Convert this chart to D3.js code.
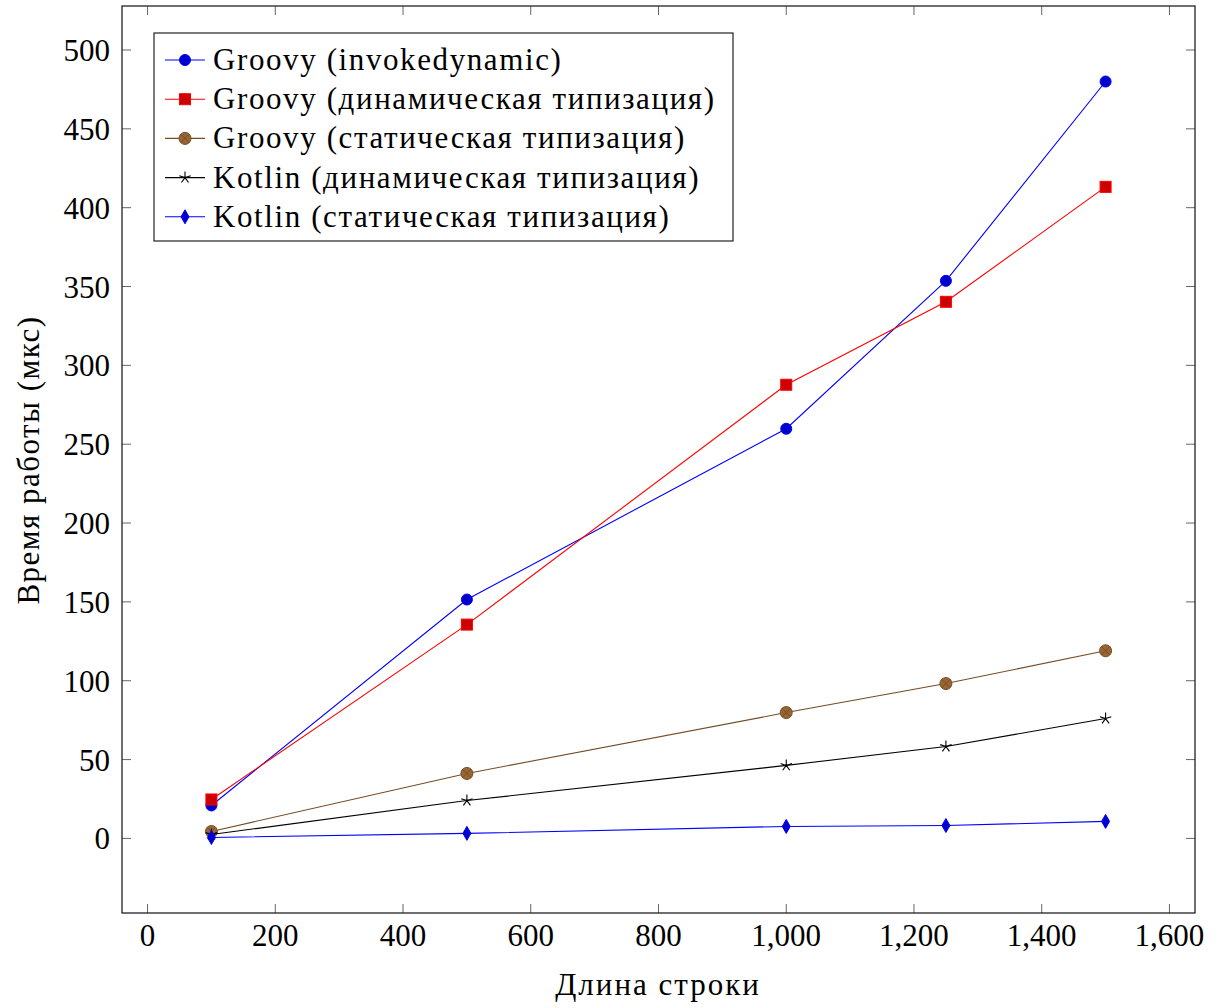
<!DOCTYPE html>
<meta charset="utf-8">
<head>
  <title>Время работы</title>
</head>
<style>
body { margin: 0; background: #fff; }
svg text { font-family: "Liberation Serif", "DejaVu Serif", serif; fill: #000; }
</style>
<body>
  <div id="content"></div>
  <script src="https://cdnjs.cloudflare.com/ajax/libs/d3/7.8.5/d3.min.js"></script>
  <script>

// data
var lengths = [100, 500, 1000, 1250, 1500];
var groovyIndy = [20.9, 151.5, 259.8, 353.6, 480];
var groovyDyn = [24.7, 135.6, 287.7, 340.3, 413.2];
var groovyStatic = [4.4, 41.2, 79.8, 98.2, 119];
var kotlinDyn = [2.5, 24, 46.3, 58.3, 76];
var kotlinStatic = [0.6, 3.2, 7.6, 8.2, 10.8];
var seriesNames = [
  'Groovy (invokedynamic)',
  'Groovy (динамическая типизация)',
  'Groovy (статическая типизация)',
  'Kotlin (динамическая типизация)',
  'Kotlin (статическая типизация)'
];
var xTicks = [0, 200, 400, 600, 800, 1000, 1200, 1400, 1600];
var yTicks = [0, 50, 100, 150, 200, 250, 300, 350, 400, 450, 500];

// pgfplots-like cycle list
var styles = [
  {line: '#0000ff', fill: '#0000cc', mark: 'circle'},
  {line: '#ff0000', fill: '#cc0000', mark: 'square'},
  {line: '#734d26', fill: '#996633', mark: 'otimes'},
  {line: '#000000', fill: 'none', mark: 'star'},
  {line: '#0000ff', fill: '#0000cc', mark: 'diamond'}
];
var series = [groovyIndy, groovyDyn, groovyStatic, kotlinDyn, kotlinStatic];

var W = 1218, H = 1008;
var svg = d3.select('#content').append('svg').attr('width', W).attr('height', H);

var x = d3.scaleLinear().domain([-40, 1640]).range([122, 1195]);
var y = d3.scaleLinear().domain([-47.3, 527.9]).range([913, 6]);

var fmt = d3.format(',');

// ticks, inward on all four sides
var tickLen = 9;
var tg = svg.append('g').attr('stroke', '#666').attr('stroke-width', 1);
xTicks.forEach(function(t) {
  tg.append('line').attr('x1', x(t)).attr('x2', x(t)).attr('y1', 913).attr('y2', 913 - tickLen);
  tg.append('line').attr('x1', x(t)).attr('x2', x(t)).attr('y1', 6).attr('y2', 6 + tickLen);
});
yTicks.forEach(function(t) {
  tg.append('line').attr('x1', 122).attr('x2', 122 + tickLen).attr('y1', y(t)).attr('y2', y(t));
  tg.append('line').attr('x1', 1195).attr('x2', 1195 - tickLen).attr('y1', y(t)).attr('y2', y(t));
});

// tick labels
svg.append('g').selectAll('text').data(xTicks).join('text')
  .attr('x', function(d) { return x(d); })
  .attr('y', 946)
  .attr('text-anchor', 'middle')
  .attr('font-size', 31)
  .text(function(d) { return fmt(d); });

svg.append('g').selectAll('text').data(yTicks).join('text')
  .attr('x', 110)
  .attr('y', function(d) { return y(d) + 11; })
  .attr('text-anchor', 'end')
  .attr('font-size', 31)
  .text(function(d) { return d; });

// axis labels
svg.append('text')
  .attr('x', 658).attr('y', 995)
  .attr('text-anchor', 'middle')
  .attr('font-size', 31)
  .attr('letter-spacing', 2)
  .text('Длина строки');

svg.append('text')
  .attr('transform', 'translate(39,460) rotate(-90)')
  .attr('text-anchor', 'middle')
  .attr('font-size', 31)
  .attr('letter-spacing', 1.5)
  .text('Время работы (мкс)');

// marker drawing
function drawMark(g, kind, st) {
  if (kind === 'circle') {
    g.append('circle').attr('r', 5.5).attr('fill', st.fill).attr('stroke', st.line).attr('stroke-width', 1);
  } else if (kind === 'square') {
    g.append('rect').attr('x', -5.5).attr('y', -5.5).attr('width', 11).attr('height', 11)
      .attr('fill', st.fill).attr('stroke', st.line).attr('stroke-width', 1);
  } else if (kind === 'otimes') {
    g.append('circle').attr('r', 6).attr('fill', st.fill).attr('stroke', st.line).attr('stroke-width', 1);
    var k = 4.2;
    g.append('path').attr('d', 'M' + -k + ',' + -k + 'L' + k + ',' + k + 'M' + -k + ',' + k + 'L' + k + ',' + -k)
      .attr('stroke', st.line).attr('stroke-width', 1);
  } else if (kind === 'star') {
    var d = '';
    for (var i = 0; i < 5; i++) {
      var a = -Math.PI / 2 + i * 2 * Math.PI / 5;
      d += 'M0,0L' + (6 * Math.cos(a)).toFixed(2) + ',' + (6 * Math.sin(a)).toFixed(2);
    }
    g.append('path').attr('d', d).attr('stroke', st.line).attr('stroke-width', 1.1).attr('fill', 'none');
  } else if (kind === 'diamond') {
    g.append('path').attr('d', 'M0,-7L4,0L0,7L-4,0Z')
      .attr('fill', st.fill).attr('stroke', st.line).attr('stroke-width', 1);
  }
}

// lines and markers
var line = d3.line()
  .x(function(d, i) { return x(lengths[i]); })
  .y(function(d) { return y(d); });

series.forEach(function(vals, si) {
  var st = styles[si];
  svg.append('path').datum(vals)
    .attr('d', line)
    .attr('fill', 'none')
    .attr('stroke', st.line)
    .attr('stroke-width', 1.1);
  vals.forEach(function(v, i) {
    var g = svg.append('g').attr('transform', 'translate(' + x(lengths[i]) + ',' + y(v) + ')');
    drawMark(g, st.mark, st);
  });
});

// frame
svg.append('rect')
  .attr('x', 122).attr('y', 6).attr('width', 1195 - 122).attr('height', 913 - 6)
  .attr('fill', 'none').attr('stroke', '#222').attr('stroke-width', 1.3);

// legend
var lg = svg.append('g');
lg.append('rect')
  .attr('x', 154).attr('y', 33).attr('width', 579).attr('height', 208)
  .attr('fill', '#fff').attr('stroke', '#222').attr('stroke-width', 1.2);
seriesNames.forEach(function(name, i) {
  var st = styles[i];
  var cy = 60 + i * 39.2;
  lg.append('line').attr('x1', 165).attr('x2', 205).attr('y1', cy).attr('y2', cy)
    .attr('stroke', st.line).attr('stroke-width', 1.1);
  drawMark(lg.append('g').attr('transform', 'translate(185,' + cy + ')'), st.mark, st);
  lg.append('text')
    .attr('x', 213).attr('y', cy + 10)
    .attr('font-size', 31)
    .attr('letter-spacing', 1.6)
    .text(name);
});
</script>
</body>
</html>
